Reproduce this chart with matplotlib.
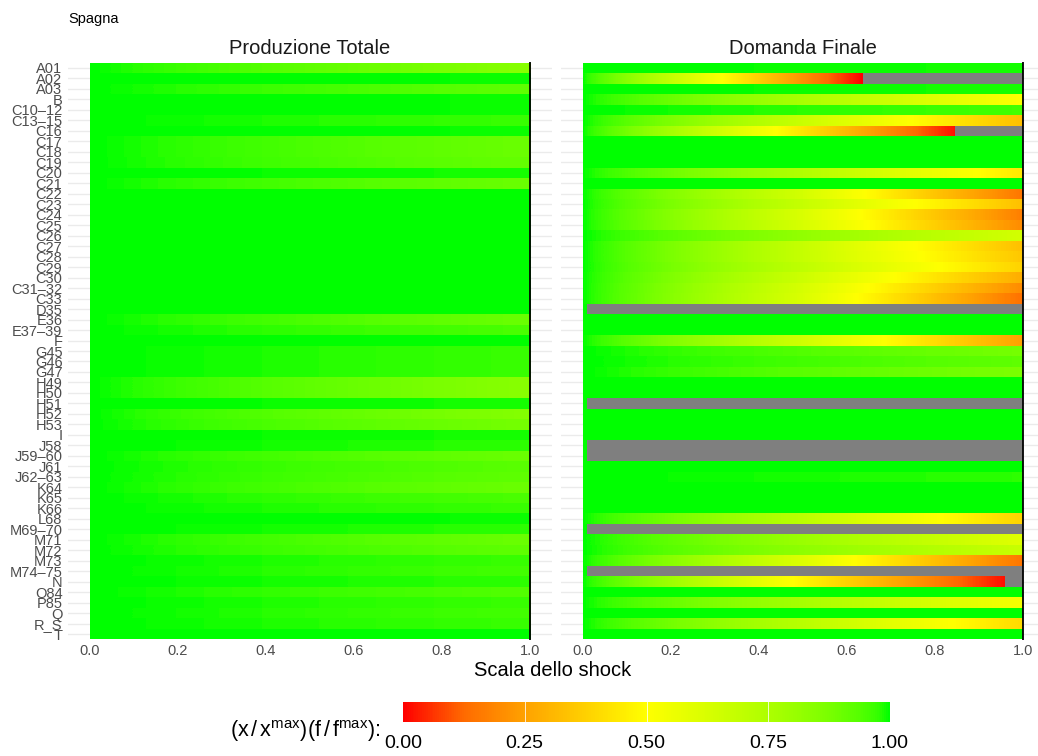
import numpy as np
import matplotlib.pyplot as plt
from matplotlib.colors import LinearSegmentedColormap, Normalize
from matplotlib.colorbar import ColorbarBase
from matplotlib.patches import Rectangle

plt.rcParams['font.family'] = 'Liberation Sans'
plt.rcParams['mathtext.fontset'] = 'custom'
plt.rcParams['mathtext.rm'] = 'Liberation Sans'
plt.rcParams['mathtext.it'] = 'Liberation Sans:italic'

# ---------------------------------------------------------
# DATA (ratio to max, read at start / middle / end of each row)
# ---------------------------------------------------------
country = "Spagna"
panels = ["Produzione Totale", "Domanda Finale"]
sectors = ["A01", "A02", "A03", "B", "C10–12", "C13–15", "C16", "C17", "C18", "C19",
           "C20", "C21", "C22", "C23", "C24", "C25", "C26", "C27", "C28", "C29",
           "C30", "C31–32", "C33", "D35", "E36", "E37–39", "F", "G45", "G46", "G47",
           "H49", "H50", "H51", "H52", "H53", "I", "J58", "J59–60", "J61", "J62–63",
           "K64", "K65", "K66", "L68", "M69–70", "M71", "M72", "M73", "M74–75", "N",
           "O84", "P85", "Q", "R_S", "T"]

start_val = 1.0  # every sector is fully green at shock 0

prod_mid = [0.92, 0.998, 0.96, 0.998, 0.998, 0.985, 0.998, 0.95, 0.95, 0.955,
            0.995, 0.95, 0.999, 0.999, 0.999, 0.999, 0.999, 0.999, 0.999, 0.999,
            0.999, 0.999, 0.999, 0.999, 0.95, 0.975, 0.999, 0.985, 0.985, 0.985,
            0.92, 0.92, 0.995, 0.925, 0.94, 0.995, 0.99, 0.95, 0.965, 0.96,
            0.95, 0.975, 0.985, 0.998, 0.99, 0.95, 0.96, 0.985, 0.98, 0.99,
            0.97, 0.985, 0.98, 0.985, 1.00]
prod_end = [0.84, 0.995, 0.92, 0.995, 0.995, 0.97, 0.995, 0.90, 0.90, 0.91,
            0.99, 0.90, 0.998, 0.998, 0.998, 0.998, 0.998, 0.998, 0.998, 0.998,
            0.998, 0.998, 0.998, 0.998, 0.90, 0.95, 0.998, 0.97, 0.97, 0.97,
            0.84, 0.84, 0.99, 0.85, 0.88, 0.99, 0.98, 0.90, 0.93, 0.92,
            0.90, 0.95, 0.97, 0.995, 0.98, 0.90, 0.92, 0.97, 0.96, 0.98,
            0.94, 0.97, 0.96, 0.97, 1.00]

dom_mid = [0.995, 0.50, 0.995, 0.76, 0.98, 0.67, 0.52, 1.00, 1.00, 1.00,
           0.74, 1.00, 0.64, 0.68, 0.62, 0.63, 0.82, 0.68, 0.68, 0.70,
           0.66, 0.63, 0.62, 1.00, 1.00, 1.00, 0.65, 0.94, 0.96, 0.93,
           1.00, 1.00, 1.00, 1.00, 1.00, 1.00, 1.00, 1.00, 1.00, 0.99,
           1.00, 1.00, 1.00, 0.71, 1.00, 0.80, 0.83, 0.61, 1.00, 0.50,
           1.00, 0.77, 1.00, 0.72, 1.00]
dom_end = [0.99, 0.00, 0.99, 0.50, 0.96, 0.33, 0.02, 1.00, 1.00, 1.00,
           0.44, 1.00, 0.15, 0.33, 0.17, 0.20, 0.64, 0.33, 0.35, 0.38,
           0.28, 0.20, 0.14, 1.00, 1.00, 1.00, 0.25, 0.88, 0.92, 0.87,
           1.00, 1.00, 1.00, 1.00, 1.00, 1.00, 1.00, 1.00, 1.00, 0.98,
           1.00, 1.00, 1.00, 0.38, 1.00, 0.60, 0.67, 0.15, 1.00, 0.02,
           1.00, 0.53, 1.00, 0.40, 1.00]
# shock level from which the value is NA (1.0 = never)
dom_na_from = [1.0, 0.636, 1.0, 1.0, 1.0, 1.0, 0.846, 1.0, 1.0, 1.0,
               1.0, 1.0, 1.0, 1.0, 1.0, 1.0, 1.0, 1.0, 1.0, 1.0,
               1.0, 1.0, 1.0, 0.01, 1.0, 1.0, 1.0, 1.0, 1.0, 1.0,
               1.0, 1.0, 0.01, 1.0, 1.0, 1.0, 0.01, 0.01, 1.0, 1.0,
               1.0, 1.0, 1.0, 1.0, 0.01, 1.0, 1.0, 1.0, 0.01, 0.958,
               1.0, 1.0, 1.0, 1.0, 1.0]
prod_na_from = [1.0] * len(sectors)

x_breaks = [0.0, 0.2, 0.4, 0.6, 0.8, 1.0]
legend_breaks = [0.0, 0.25, 0.5, 0.75, 1.0]

# ---------------------------------------------------------
# STYLE: red -> yellow -> green gradient (Lab-like steps, as in ggplot)
# ---------------------------------------------------------
cmap = LinearSegmentedColormap.from_list(
    "shock", [(0.0, "#FF0000"), (0.125, "#FF6B00"), (0.25, "#FFA200"),
              (0.375, "#FFD100"), (0.5, "#FFFF00"), (0.625, "#D8FF00"),
              (0.75, "#AEFF00"), (0.8125, "#96FF00"), (0.875, "#7AFF00"),
              (0.9375, "#56FF00"), (0.96875, "#3CFF00"), (0.984, "#29FF00"),
              (1.0, "#00FF00")])
na_color = "#7F7F7F"
W, H = 1038, 756

fig = plt.figure(figsize=(W / 100, H / 100), dpi=100)


def px_box(left, top, width, height):
    return [left / W, 1 - (top + height) / H, width / W, height / H]


def draw_panel(ax, mids, ends, na_from, show_labels):
    n = len(sectors)
    for i in range(n):
        na = na_from[i]
        step = na / 2
        row = np.array([[start_val, mids[i], ends[i]]])
        im = ax.imshow(row, cmap=cmap, vmin=0, vmax=1, aspect='auto',
                       interpolation='bilinear', interpolation_stage='data',
                       extent=(-step / 2, na + step / 2, i + 0.5, i - 0.5), zorder=1)
        im.set_clip_path(Rectangle((0, i - 0.5), na, 1, transform=ax.transData))
        if na < 1:
            ax.barh(i, 1 - na, left=na, height=1, color=na_color, lw=0, zorder=1)
    ax.axvline(1.0, color="black", lw=1.3, zorder=3)

    ax.set_xlim(-0.05, 1.05)
    ax.set_ylim(n - 0.4, -0.6)
    ax.set_yticks(range(n))
    ax.set_yticklabels(sectors if show_labels else [])
    ax.set_xticks(x_breaks)
    ax.set_xticklabels([f"{v:.1f}" for v in x_breaks])
    ax.grid(axis='y', color="#EBEBEB", lw=1.0)
    ax.set_axisbelow(True)
    ax.tick_params(length=0, labelsize=10.5, labelcolor="#4D4D4D")
    ax.tick_params(axis='x', pad=3)
    ax.tick_params(axis='y', pad=4)
    for s in ax.spines.values():
        s.set_visible(False)


ax1 = fig.add_axes(px_box(68, 61.7, 484, 578.6))
ax2 = fig.add_axes(px_box(561, 61.7, 484, 578.6))
draw_panel(ax1, prod_mid, prod_end, prod_na_from, True)
draw_panel(ax2, dom_mid, dom_end, dom_na_from, False)

# strip titles
fig.text((68 + 242) / W, 1 - 48 / H, panels[0], ha='center', va='center',
         fontsize=14.5, color="#1A1A1A")
fig.text((561 + 242) / W, 1 - 48 / H, panels[1], ha='center', va='center',
         fontsize=14.5, color="#1A1A1A")

fig.text(68 / W, 1 - 19 / H, country, ha='left', va='center', fontsize=10.5)
fig.text(553 / W, 1 - 671 / H, "Scala dello shock", ha='center', va='center',
         fontsize=14.5)

# ---------------------------------------------------------
# LEGEND (colorbar at the bottom)
# ---------------------------------------------------------
cax = fig.add_axes(px_box(403, 702, 487, 20))
cb = ColorbarBase(cax, cmap=cmap, norm=Normalize(0, 1), orientation='horizontal',
                  ticks=legend_breaks)
cb.outline.set_visible(False)
cb.set_ticklabels([f"{v:.2f}" for v in legend_breaks])
cax.tick_params(length=0, labelsize=14, pad=9)
for v in legend_breaks[1:-1]:
    cax.axvline(v, color="white", lw=0.7, alpha=0.8)

fig.text(380 / W, 1 - 731 / H,
         r"$\mathregular{(x\,/\,x^{max})(f\,/\,f^{max})}$:",
         ha='right', va='center', fontsize=15.5)

fig.savefig("out.png", dpi=100)
